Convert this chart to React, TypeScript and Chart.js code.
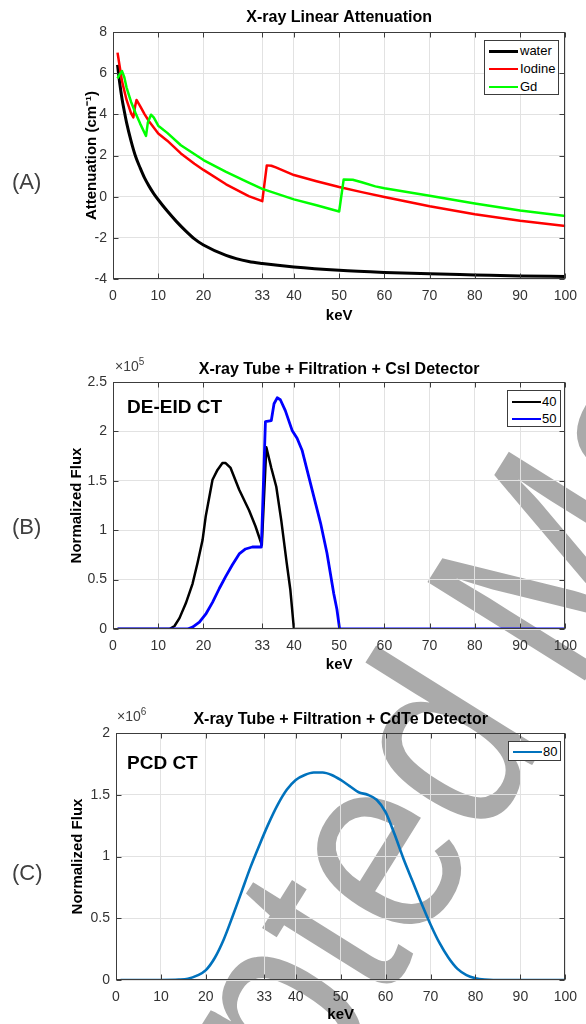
import React, { useEffect, useRef } from "react";
import { Chart, registerables } from "chart.js";

Chart.register(...registerables);

// ---------- shared axis ticks ----------
const KEV_TICKS = [0, 10, 20, 33, 40, 50, 60, 70, 80, 90, 100];

// ---------- Panel A: X-ray linear attenuation ----------
const waterKeV = [1, 1.5, 2, 2.5, 3, 4, 5, 6, 7, 8, 9, 10, 12, 14, 16, 18, 20, 25, 30, 33, 40, 50, 60, 70, 80, 90, 100];
const waterMu = [6.4, 5.5, 4.75, 4.15, 3.6, 2.7, 1.95, 1.4, 0.9, 0.5, 0.15, -0.15, -0.7, -1.2, -1.65, -2.05, -2.35, -2.85, -3.15, -3.25, -3.42, -3.58, -3.68, -3.75, -3.8, -3.85, -3.88];

const iodineKeV = [1, 1.5, 2, 3, 4, 4.5, 4.9, 5.2, 6, 7, 8, 10, 12, 15, 18, 20, 25, 30, 33, 34, 35, 36, 40, 45, 50, 55, 60, 70, 80, 90, 100];
const iodineMu = [7.0, 6.3, 5.6, 4.7, 4.05, 3.85, 4.4, 4.7, 4.4, 4.0, 3.65, 3.07, 2.72, 2.1, 1.6, 1.3, 0.6, 0.03, -0.22, 1.52, 1.5, 1.42, 1.05, 0.75, 0.47, 0.22, -0.02, -0.47, -0.85, -1.17, -1.43];

const gdKeV = [1, 1.5, 2, 2.5, 3, 4, 5, 6, 7.3, 7.7, 8.4, 9, 10, 12, 15, 20, 25, 30, 33, 40, 45, 50, 51, 53, 55, 58, 60, 70, 80, 90, 100];
const gdMu = [5.75, 5.95, 6.1, 5.8, 5.3, 4.6, 4.05, 3.55, 2.95, 3.6, 3.98, 3.85, 3.45, 3.1, 2.5, 1.78, 1.2, 0.68, 0.38, -0.13, -0.42, -0.72, 0.84, 0.82, 0.7, 0.5, 0.41, 0.04, -0.33, -0.67, -0.94];

// ---------- Panel B: DE-EID CT spectra ----------
const flux40KeV = [1, 5, 10, 12.5, 13.6, 14.7, 16.1, 17.6, 18.7, 19.8, 20.5, 22, 23.1, 24.2, 24.9, 26, 27.9, 30.1, 31.5, 32.9, 33.9, 35, 36.1, 37.2, 38.4, 39.2, 40, 45, 50];
const flux40 = [0, 0, 0, 0, 3000, 11000, 26000, 46000, 67000, 90000, 114000, 151000, 161000, 168000, 168000, 163000, 141000, 120000, 104000, 85000, 184000, 163000, 144000, 110000, 67000, 40000, 0, 0, 0];

const flux50KeV = [1, 5, 10, 15, 16.5, 17.6, 19.1, 20.5, 22, 23.5, 24.9, 26.4, 27.9, 29.3, 30.8, 32.8, 33.7, 35, 35.6, 36.3, 37, 38.1, 39.6, 40.7, 41.8, 42.9, 44.4, 45.9, 47.3, 48.8, 49.5, 50.1, 60, 70, 80, 90, 100];
const flux50 = [0, 0, 0, 0, 0, 2000, 7000, 15000, 27000, 41000, 53000, 65000, 76000, 81000, 83000, 83000, 210000, 211000, 228000, 234000, 232000, 221000, 201000, 193000, 181000, 161000, 134000, 107000, 77000, 36000, 20000, 0, 0, 0, 0, 0, 0];

// ---------- Panel C: PCD CT spectrum ----------
const flux80KeV = [1, 10, 14, 16, 18, 20, 22, 24, 26, 28, 30, 32, 34, 36, 38, 40, 42, 44, 46, 48, 50, 52, 54, 56, 58, 60, 62, 64, 66, 68, 70, 72, 74, 76, 78, 80, 82, 84, 90, 100];
const flux80 = [0, 0, 3000, 10000, 35000, 80000, 180000, 330000, 520000, 720000, 920000, 1100000, 1270000, 1420000, 1540000, 1620000, 1660000, 1680000, 1680000, 1660000, 1620000, 1570000, 1520000, 1500000, 1460000, 1360000, 1180000, 980000, 800000, 620000, 450000, 300000, 180000, 90000, 40000, 15000, 4000, 0, 0, 0];

// ---------- styling ----------
const FONT = "'Liberation Sans', Arial, Helvetica, sans-serif";
const TICK_COLOR = "#333333";
const GRID_COLOR = "#e2e2e2";

type Spec = {
  top: number;
  height: number;
  plotLeft: number;
  plotRight: number;
  plotTop: number;
  plotBottom: number;
  titleY: number;
  keVY: number;
  yTitleX: number;
};

const SPEC_A: Spec = { top: 0, height: 330, plotLeft: 113, plotRight: 568, plotTop: 32, plotBottom: 279, titleY: 18, keVY: 316, yTitleX: 92 };
const SPEC_B: Spec = { top: 340, height: 340, plotLeft: 113, plotRight: 568, plotTop: 382, plotBottom: 629, titleY: 370, keVY: 665, yTitleX: 77 };
const SPEC_C: Spec = { top: 690, height: 334, plotLeft: 116, plotRight: 568, plotTop: 733, plotBottom: 980, titleY: 720, keVY: 1015, yTitleX: 78 };

const toXY = (xs: number[], ys: number[]) => xs.map((x, i) => ({ x, y: ys[i] }));

const framePlugin = {
  id: "matlabFrame",
  afterDraw(chart: any) {
    const { ctx, chartArea: a, scales } = chart;
    ctx.save();
    ctx.strokeStyle = "#3c3c3c";
    ctx.lineWidth = 1;
    const l = Math.round(a.left) + 0.5;
    const t = Math.round(a.top) + 0.5;
    const r = Math.round(a.right) - 0.5;
    const b = Math.round(a.bottom) - 0.5;
    ctx.strokeRect(l, t, r - l, b - t);
    const tl = 5;
    ctx.beginPath();
    scales.x.ticks.forEach((tk: any) => {
      const x = Math.round(scales.x.getPixelForValue(tk.value)) + 0.5;
      ctx.moveTo(x, b);
      ctx.lineTo(x, b - tl);
      ctx.moveTo(x, t);
      ctx.lineTo(x, t + tl);
    });
    scales.y.ticks.forEach((tk: any) => {
      const y = Math.round(scales.y.getPixelForValue(tk.value)) + 0.5;
      ctx.moveTo(l, y);
      ctx.lineTo(l + tl, y);
      ctx.moveTo(r, y);
      ctx.lineTo(r - tl, y);
    });
    ctx.stroke();
    ctx.restore();
  },
};

function buildOptions(
  spec: Spec,
  title: string,
  yTitle: string,
  yMin: number,
  yMax: number,
  yStep: number,
  yFmt: (v: number) => string
) {
  const titleLH = 16 * 1.2;
  const titlePadTop = spec.titleY - spec.top - titleLH / 2;
  const titlePadBottom = spec.plotTop - spec.top - titlePadTop - titleLH;
  const labelLH = 15 * 1.2;
  const canvasBottom = spec.top + spec.height;
  return {
    responsive: false,
    animation: false,
    events: [],
    layout: { padding: { left: 0, right: 586 - spec.plotRight, top: 0, bottom: 0 } },
    plugins: {
      legend: { display: false },
      tooltip: { enabled: false },
      title: {
        display: true,
        text: title,
        fullSize: false,
        color: "#000000",
        font: { family: FONT, size: 16, weight: "bold", lineHeight: 1.2 },
        padding: { top: titlePadTop, bottom: titlePadBottom },
      },
    },
    scales: {
      x: {
        type: "linear",
        min: 0,
        max: 100,
        afterBuildTicks: (s: any) => {
          s.ticks = KEV_TICKS.map((v) => ({ value: v }));
        },
        afterFit: (s: any) => {
          s.height = canvasBottom - spec.plotBottom;
        },
        grid: { color: GRID_COLOR, drawTicks: false },
        border: { display: false },
        ticks: {
          autoSkip: false,
          maxRotation: 0,
          padding: 9,
          color: TICK_COLOR,
          font: { family: FONT, size: 14 },
          callback: (v: any) => String(v),
        },
        title: {
          display: true,
          text: "keV",
          color: "#000000",
          font: { family: FONT, size: 15, weight: "bold", lineHeight: 1.2 },
          padding: { top: 0, bottom: Math.max(0, canvasBottom - spec.keVY - labelLH / 2) },
        },
      },
      y: {
        type: "linear",
        min: yMin,
        max: yMax,
        afterFit: (s: any) => {
          s.width = spec.plotLeft;
        },
        grid: { color: GRID_COLOR, drawTicks: false },
        border: { display: false },
        ticks: {
          stepSize: yStep,
          padding: 6,
          color: TICK_COLOR,
          font: { family: FONT, size: 14 },
          callback: (v: any) => yFmt(Number(v)),
        },
        title: {
          display: true,
          text: yTitle,
          color: "#000000",
          font: { family: FONT, size: 15, weight: "bold", lineHeight: 1.2 },
          padding: { top: spec.yTitleX - labelLH / 2, bottom: 0 },
        },
      },
    },
  };
}

const lineDs = (label: string, xs: number[], ys: number[], color: string, width: number, order: number, smooth: boolean) => ({
  label,
  data: toXY(xs, ys),
  borderColor: color,
  backgroundColor: color,
  borderWidth: width,
  pointRadius: 0,
  fill: false,
  order,
  tension: 0,
  cubicInterpolationMode: smooth ? "monotone" : "default",
  borderJoinStyle: "round",
});

function configA() {
  return {
    type: "line",
    data: {
      datasets: [
        lineDs("water", waterKeV, waterMu, "#000000", 3, 2, true),
        lineDs("Iodine", iodineKeV, iodineMu, "#ff0000", 2.5, 1, false),
        lineDs("Gd", gdKeV, gdMu, "#00ff00", 2.5, 0, false),
      ],
    },
    options: buildOptions(SPEC_A, "X-ray Linear Attenuation", "Attenuation (cm\u207B\u00B9)", -4, 8, 2, (v) => String(v)),
    plugins: [framePlugin],
  };
}

function configB() {
  return {
    type: "line",
    data: {
      datasets: [
        lineDs("40", flux40KeV, flux40, "#000000", 2.5, 1, false),
        lineDs("50", flux50KeV, flux50, "#0000ff", 2.8, 0, false),
      ],
    },
    options: buildOptions(SPEC_B, "X-ray Tube + Filtration + CsI Detector", "Normalized Flux", 0, 250000, 50000, (v) => String(Math.round((v / 1e5) * 10) / 10)),
    plugins: [framePlugin],
  };
}

function configC() {
  return {
    type: "line",
    data: {
      datasets: [lineDs("80", flux80KeV, flux80, "#0072bd", 2.6, 0, true)],
    },
    options: buildOptions(SPEC_C, "X-ray Tube + Filtration + CdTe Detector", "Normalized Flux", 0, 2000000, 500000, (v) => String(Math.round((v / 1e6) * 10) / 10)),
    plugins: [framePlugin],
  };
}

function ChartPanel({ spec, makeConfig }: { spec: Spec; makeConfig: () => any }) {
  const ref = useRef<HTMLCanvasElement | null>(null);
  useEffect(() => {
    const chart = new Chart(ref.current as HTMLCanvasElement, makeConfig());
    return () => chart.destroy();
  }, []);
  return (
    <canvas
      ref={ref}
      width={586}
      height={spec.height}
      style={{ position: "absolute", left: 0, top: spec.top, width: 586, height: spec.height }}
    />
  );
}

type LegendItem = { label: string; color: string; width: number };

function Legend({ left, top, width, height, items, rowY, lineX0, lineX1, textX }: {
  left: number; top: number; width: number; height: number; items: LegendItem[]; rowY: number[]; lineX0: number; lineX1: number; textX: number;
}) {
  return (
    <div style={{ position: "absolute", left, top, width, height, background: "#ffffff", border: "1px solid #3c3c3c", boxSizing: "border-box" }}>
      {items.map((it, i) => (
        <React.Fragment key={it.label}>
          <div style={{ position: "absolute", left: lineX0 - left, top: rowY[i] - top - it.width / 2, width: lineX1 - lineX0, height: it.width, background: it.color }} />
          <div style={{ position: "absolute", left: textX - left, top: rowY[i] - top - 8, height: 16, lineHeight: "16px", fontFamily: FONT, fontSize: 13, color: "#000" }}>{it.label}</div>
        </React.Fragment>
      ))}
    </div>
  );
}

const abs = (left: number, top: number, extra: React.CSSProperties = {}): React.CSSProperties => ({ position: "absolute", left, top, whiteSpace: "nowrap", ...extra });

// watermark anchor: foot of the left stem of "M"
const WM_X = 584;
const WM_Y = 682;

export default function App() {
  return (
    <div style={{ position: "absolute", left: 0, top: 0, width: 586, height: 1024, overflow: "hidden", background: "#ffffff" }}>
      <svg width={586} height={1024} style={{ position: "absolute", left: 0, top: 0 }}>
        <g transform={`translate(${WM_X} ${WM_Y}) rotate(-58) scale(0.85 1)`}>
          <text x={0} y={0} textAnchor="end" fontFamily={FONT} fontSize={270} fill="#aaaaaa">
            {"Accepted\u00A0"}
          </text>
          <text x={-20} y={0} textAnchor="start" fontFamily={FONT} fontSize={270} fill="#aaaaaa">
            Manuscript
          </text>
        </g>
      </svg>

      <ChartPanel spec={SPEC_A} makeConfig={configA} />
      <ChartPanel spec={SPEC_B} makeConfig={configB} />
      <ChartPanel spec={SPEC_C} makeConfig={configC} />

      <div style={abs(12, 169, { fontFamily: FONT, fontSize: 22, color: "#404040", lineHeight: "26px" })}>(A)</div>
      <div style={abs(12, 514, { fontFamily: FONT, fontSize: 22, color: "#404040", lineHeight: "26px" })}>(B)</div>
      <div style={abs(12, 860, { fontFamily: FONT, fontSize: 22, color: "#404040", lineHeight: "26px" })}>(C)</div>

      <div style={abs(115, 358, { fontFamily: FONT, fontSize: 14, color: "#404040", lineHeight: "16px" })}>
        {"\u00D710"}<span style={{ fontSize: 10, position: "relative", top: -6 }}>5</span>
      </div>
      <div style={abs(117, 708, { fontFamily: FONT, fontSize: 14, color: "#404040", lineHeight: "16px" })}>
        {"\u00D710"}<span style={{ fontSize: 10, position: "relative", top: -6 }}>6</span>
      </div>

      <div style={abs(127, 395, { fontFamily: FONT, fontSize: 19, fontWeight: "bold", color: "#000", lineHeight: "24px" })}>DE-EID CT</div>
      <div style={abs(127, 751, { fontFamily: FONT, fontSize: 19, fontWeight: "bold", color: "#000", lineHeight: "24px" })}>PCD CT</div>

      <Legend
        left={484} top={40} width={75} height={55}
        items={[{ label: "water", color: "#000000", width: 3 }, { label: "Iodine", color: "#ff0000", width: 2.5 }, { label: "Gd", color: "#00ff00", width: 2.5 }]}
        rowY={[50, 68, 86]} lineX0={488} lineX1={517} textX={519}
      />
      <Legend
        left={507} top={390} width={54} height={37}
        items={[{ label: "40", color: "#000000", width: 2.5 }, { label: "50", color: "#0000ff", width: 2.8 }]}
        rowY={[401, 418]} lineX0={511} lineX1={540} textX={541}
      />
      <Legend
        left={508} top={741} width={53} height={20}
        items={[{ label: "80", color: "#0072bd", width: 2.6 }]}
        rowY={[751]} lineX0={512} lineX1={541} textX={542}
      />
    </div>
  );
}
